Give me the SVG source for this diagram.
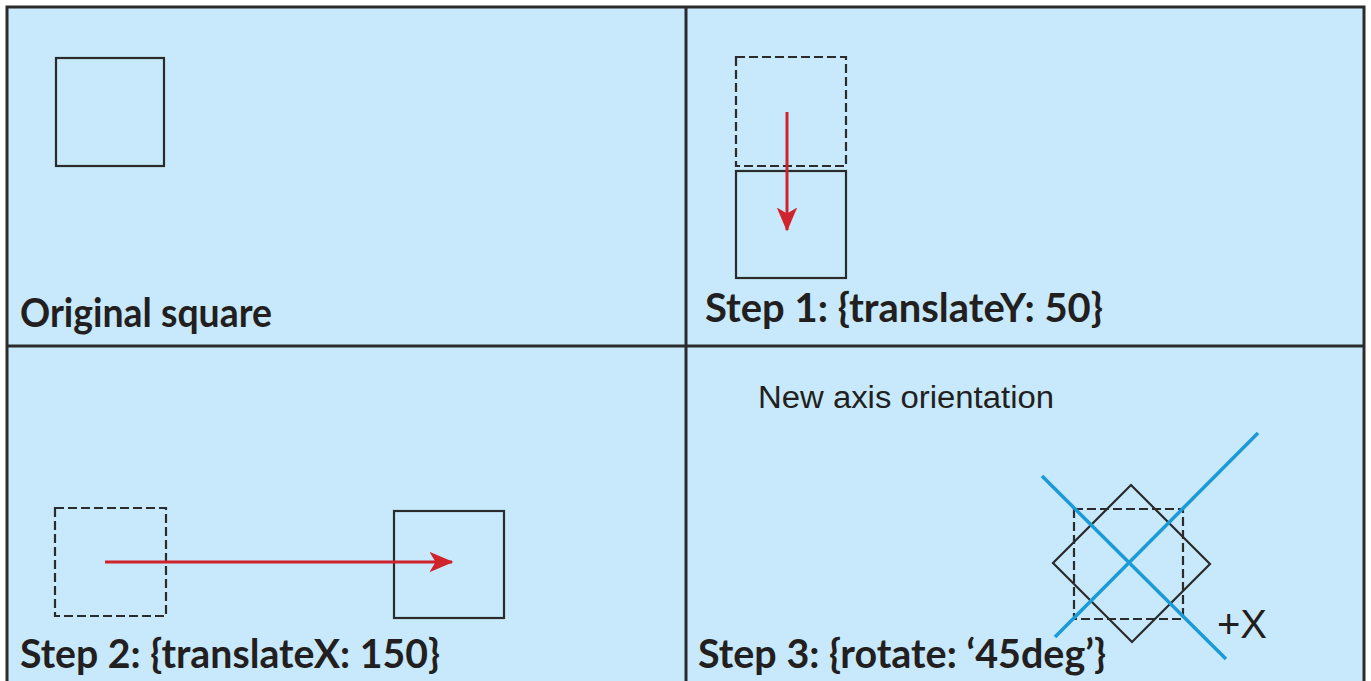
<svg xmlns="http://www.w3.org/2000/svg" width="1371" height="681" viewBox="0 0 1371 681">
<style>
.bg{fill:#c7e9fb}
.frame{fill:none;stroke:#2b2b2b;stroke-width:3}
.sq{fill:none;stroke:#2b2b2b;stroke-width:2.2}
.dash{fill:none;stroke:#2b2b2b;stroke-width:2.2;stroke-dasharray:9 4}
.red{stroke:#d0232b;stroke-width:3;fill:none}
.axis{stroke:#1b9ad8;stroke-width:3.5;fill:none}
.lbl{font-family:Lato,"Open Sans","Liberation Sans",sans-serif;font-weight:bold;font-size:40px;fill:#231f20}
.thin{font-family:"Liberation Sans",Arial,sans-serif;font-size:31px;fill:#231f20}
</style>
<defs>
<marker id="ah" markerWidth="8" markerHeight="8" refX="7.5" refY="4" orient="auto" markerUnits="strokeWidth">
<path d="M0,0.6 L8,4 L0,7.4 L2,4 Z" fill="#d0232b"/>
</marker>
</defs>
<rect x="0" y="0" width="1371" height="681" fill="#ffffff"/>
<rect class="bg" x="7" y="7" width="1357" height="700"/>
<g id="panels">
<rect class="frame" x="7" y="7" width="1357" height="700"/>
<line class="frame" x1="686" y1="7" x2="686" y2="681"/>
<line class="frame" x1="7" y1="346" x2="1364" y2="346"/>
</g>
<g id="original">
<rect class="sq" x="56" y="58" width="108" height="108"/>
<text class="lbl" x="20" y="327" textLength="252" lengthAdjust="spacingAndGlyphs">Original square</text>
</g>
<g id="step1">
<rect class="dash" x="736" y="57" width="110" height="109"/>
<rect class="sq" x="736" y="171" width="110" height="107"/>
<text class="lbl" x="705" y="322" textLength="398" lengthAdjust="spacingAndGlyphs">Step 1: {translateY: 50}</text>
</g>
<g id="step2">
<rect class="dash" x="55" y="508" width="111" height="108"/>
<rect class="sq" x="394" y="511" width="110" height="107"/>
<text class="lbl" x="20" y="668" textLength="420" lengthAdjust="spacingAndGlyphs">Step 2: {translateX: 150}</text>
</g>
<g id="step3">
<text class="thin" x="758" y="408" textLength="296" lengthAdjust="spacingAndGlyphs">New axis orientation</text>
<rect class="dash" x="1074" y="509" width="109" height="110"/>
<polygon class="sq" points="1131,485 1210,564 1132,642 1053,563"/>
<line class="axis" x1="1042" y1="476" x2="1226" y2="659"/>
<line class="axis" x1="1055" y1="637" x2="1258" y2="433"/>
<text class="thin" x="1217" y="638" style="font-size:40px">+X</text>
<text class="lbl" x="698" y="668" textLength="408" lengthAdjust="spacingAndGlyphs">Step 3: {rotate: ‘45deg’}</text>
</g>
<g id="connectors">
<line class="red" x1="787" y1="112" x2="787" y2="230" marker-end="url(#ah)"/>
<line class="red" x1="105" y1="562" x2="452" y2="562" marker-end="url(#ah)"/>
</g>
</svg>
